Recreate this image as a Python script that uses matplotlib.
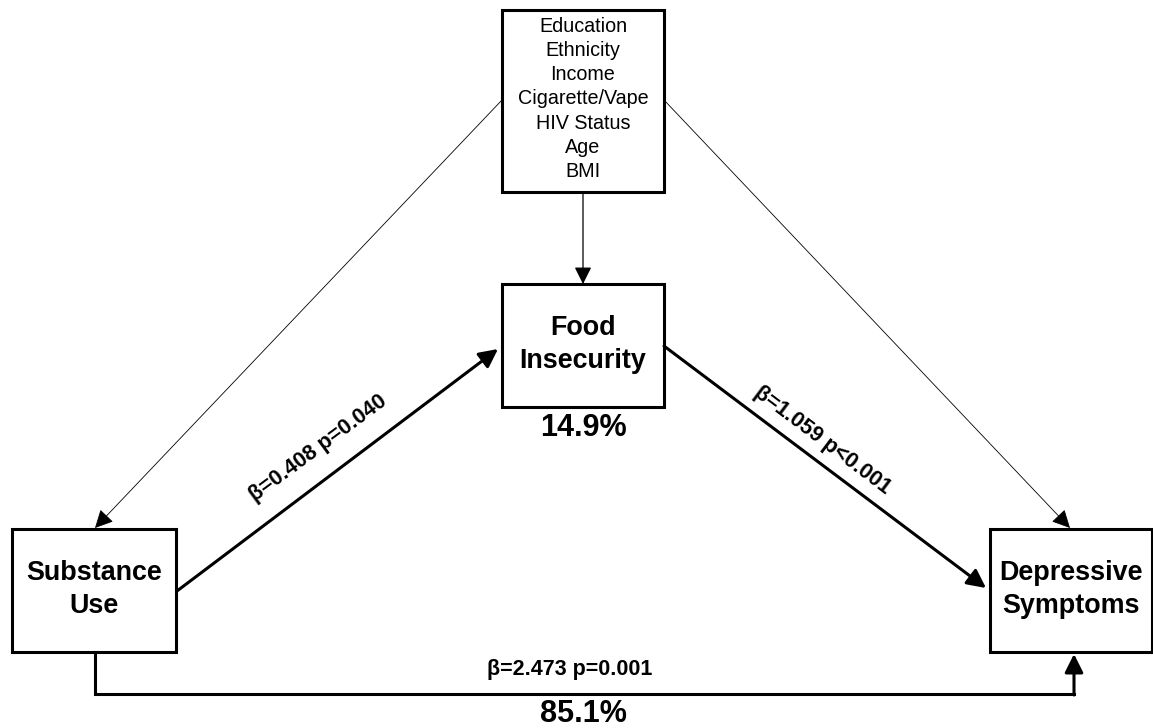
import matplotlib.pyplot as plt
from matplotlib.patches import Rectangle, FancyArrowPatch

plt.rcParams['font.family'] = ['Liberation Sans', 'DejaVu Sans']

# Diagram content
covariates = ['Education', 'Ethnicity', 'Income', 'Cigarette/Vape', 'HIV Status', 'Age', 'BMI']
node_names = ['Substance\nUse', 'Food\nInsecurity', 'Depressive\nSymptoms']
betas = [0.408, 1.059, 2.473]
p_labels = ['p=0.040', 'p<0.001', 'p=0.001']
pct_indirect = 14.9
pct_direct = 85.1

# Layout in pixel coordinates (x0, y0, x1, y1)
boxes = {
    'cov': (502, 10, 664, 192),
    'sub': (12, 529, 176, 652),
    'food': (502, 284, 664, 407),
    'dep': (990, 529, 1152, 652),
}

fig = plt.figure(figsize=(11.53, 7.28), dpi=100)
ax = fig.add_axes([0, 0, 1, 1])
ax.set_xlim(0, 1153)
ax.set_ylim(728, 0)
ax.axis('off')

for key, (x0, y0, x1, y1) in boxes.items():
    ax.add_patch(Rectangle((x0, y0), x1 - x0, y1 - y0, fill=False,
                           lw=2.2, ec='black', joinstyle='miter', zorder=3))

def center(key):
    x0, y0, x1, y1 = boxes[key]
    return (x0 + x1) / 2, (y0 + y1) / 2

cx, cy = center('cov')
ax.text(cx, cy - 2, '\n'.join(covariates), ha='center', va='center',
        fontsize=14.2, linespacing=1.35)

for key, name in zip(['sub', 'food', 'dep'], node_names):
    x, y = center(key)
    ax.text(x, y - 1, name, ha='center', va='center', fontsize=19.4,
            fontweight='bold', linespacing=1.31)

def arrow(p0, p1, lw, scale):
    ax.add_patch(FancyArrowPatch(p0, p1, arrowstyle='-|>', mutation_scale=scale,
                                 lw=lw, color='black', shrinkA=0, shrinkB=0, zorder=2))

# covariate arrows (thin)
arrow((583, 192), (583, 284), 0.9, 26)
arrow((502, 100), (95, 528), 0.6, 28)
arrow((664, 100), (1070, 528), 0.6, 28)

# mediation paths (thick)
arrow((177, 591), (498, 349), 2.2, 28)
arrow((664, 346), (986, 588), 2.2, 28)
ax.plot([95, 95, 1074], [652, 694, 694], color='black', lw=2.2,
        solid_joinstyle='miter', zorder=2)
arrow((1074, 695), (1074, 654), 2.2, 28)

lab_kw = dict(ha='center', va='center', fontsize=15.5, fontweight='bold',
              rotation_mode='anchor')
ax.text(318, 448, f'β={betas[0]:.3f} {p_labels[0]}', rotation=36.5, **lab_kw)
ax.text(822, 440, f'β={betas[1]:.3f} {p_labels[1]}', rotation=-37, **lab_kw)
ax.text(570, 669, f'β={betas[2]:.3f} {p_labels[2]}', **lab_kw)

ax.text(583, 428, f'{pct_indirect:.1f}%', ha='center', va='center',
        fontsize=22, fontweight='bold')
ax.text(583, 714, f'{pct_direct:.1f}%', ha='center', va='center',
        fontsize=22, fontweight='bold')

fig.savefig('out.png', dpi=100)
